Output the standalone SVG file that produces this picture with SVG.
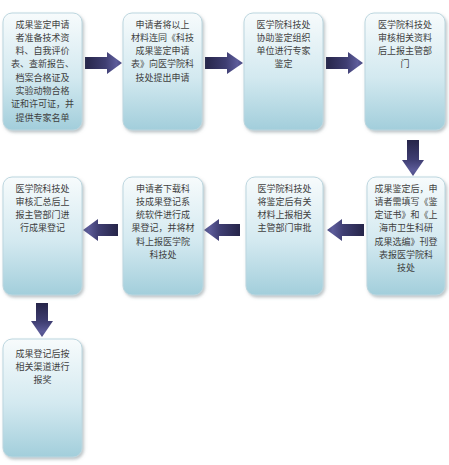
<svg xmlns="http://www.w3.org/2000/svg" width="449" height="465" viewBox="0 0 449 465">
<style>
.box{fill:url(#bg);stroke:#bcd6df;stroke-width:1;filter:url(#sh)}
.t{font-family:"Noto Sans CJK SC","Noto Sans",sans-serif;font-size:9px;fill:#404040;text-anchor:middle}
.ar{fill:url(#gr)}
.al{fill:url(#gl)}
.ad{fill:url(#gd)}
</style>
<defs>
<linearGradient id="bg" x1="0" y1="0" x2="0" y2="1">
<stop offset="0" stop-color="#f7fbfc"/>
<stop offset="0.55" stop-color="#d3e9f0"/>
<stop offset="1" stop-color="#a2cedb"/>
</linearGradient>
<linearGradient id="gr" x1="0" y1="0" x2="1" y2="0">
<stop offset="0" stop-color="#262549"/>
<stop offset="0.55" stop-color="#3f3e72"/>
<stop offset="0.85" stop-color="#5d5c9a"/>
<stop offset="1" stop-color="#4a4982"/>
</linearGradient>
<linearGradient id="gl" x1="1" y1="0" x2="0" y2="0">
<stop offset="0" stop-color="#262549"/>
<stop offset="0.55" stop-color="#3f3e72"/>
<stop offset="0.85" stop-color="#5d5c9a"/>
<stop offset="1" stop-color="#4a4982"/>
</linearGradient>
<linearGradient id="gd" x1="0" y1="0" x2="0" y2="1">
<stop offset="0" stop-color="#262549"/>
<stop offset="0.55" stop-color="#3f3e72"/>
<stop offset="0.85" stop-color="#5d5c9a"/>
<stop offset="1" stop-color="#4a4982"/>
</linearGradient>
<filter id="sh" x="-10%" y="-10%" width="125%" height="125%">
<feDropShadow dx="1.5" dy="2" stdDeviation="1.5" flood-color="#7a8a90" flood-opacity="0.5"/>
</filter>
</defs>
<g id="connectors">
<path class="ar" d="M85 57H107V52L122 63L107 74V69H85Z"/>
<path class="ar" d="M205 57H227V52L243 63L227 74V69H205Z"/>
<path class="ar" d="M326 57H348V52L363 63L348 74V69H326Z"/>
<path class="ad" d="M407 140H419V160H424L413 176L402 160H407Z"/>
<path class="al" d="M118 224H98V219L83 230L98 241V236H118Z"/>
<path class="al" d="M240 224H219V219L204 230L219 241V236H240Z"/>
<path class="al" d="M364 224H342V219L327 230L342 241V236H364Z"/>
<path class="ad" d="M36 303H48V321H53L42 337L31 321H36Z"/>
</g>
<g id="n1">
<rect class="box" x="3" y="13" width="79" height="117" rx="9"/>
<text class="t" x="42.5" y="27.5">成果鉴定申请<tspan x="42.5" dy="13.3">者准备技术资</tspan><tspan x="42.5" dy="13.3">料、自我评价</tspan><tspan x="42.5" dy="13.3">表、查新报告、</tspan><tspan x="42.5" dy="13.3">档案合格证及</tspan><tspan x="42.5" dy="13.3">实验动物合格</tspan><tspan x="42.5" dy="13.3">证和许可证，并</tspan><tspan x="42.5" dy="13.3">提供专家名单</tspan></text>
</g>
<g id="n2">
<rect class="box" x="123" y="13" width="79" height="117" rx="9"/>
<text class="t" x="162.5" y="27.5">申请者将以上<tspan x="162.5" dy="13.3">材料连同《科技</tspan><tspan x="162.5" dy="13.3">成果鉴定申请</tspan><tspan x="162.5" dy="13.3">表》向医学院科</tspan><tspan x="162.5" dy="13.3">技处提出申请</tspan></text>
</g>
<g id="n3">
<rect class="box" x="244" y="13" width="79" height="117" rx="9"/>
<text class="t" x="283.5" y="27.5">医学院科技处<tspan x="283.5" dy="13.3">协助鉴定组织</tspan><tspan x="283.5" dy="13.3">单位进行专家</tspan><tspan x="283.5" dy="13.3">鉴定</tspan></text>
</g>
<g id="n4">
<rect class="box" x="365" y="13" width="80" height="117" rx="9"/>
<text class="t" x="405" y="27.5">医学院科技处<tspan x="405" dy="13.3">审核相关资料</tspan><tspan x="405" dy="13.3">后上报主管部</tspan><tspan x="405" dy="13.3">门</tspan></text>
</g>
<g id="n5">
<rect class="box" x="367" y="177" width="78" height="118" rx="9"/>
<text class="t" x="406" y="191.5">成果鉴定后，申<tspan x="406" dy="13.3">请者需填写《鉴</tspan><tspan x="406" dy="13.3">定证书》和《上</tspan><tspan x="406" dy="13.3">海市卫生科研</tspan><tspan x="406" dy="13.3">成果选编》刊登</tspan><tspan x="406" dy="13.3">表报医学院科</tspan><tspan x="406" dy="13.3">技处</tspan></text>
</g>
<g id="n6">
<rect class="box" x="246" y="177" width="77" height="118" rx="9"/>
<text class="t" x="284.5" y="191.5">医学院科技处<tspan x="284.5" dy="13.3">将鉴定后有关</tspan><tspan x="284.5" dy="13.3">材料上报相关</tspan><tspan x="284.5" dy="13.3">主管部门审批</tspan></text>
</g>
<g id="n7">
<rect class="box" x="123" y="177" width="80" height="118" rx="9"/>
<text class="t" x="163" y="191.5">申请者下载科<tspan x="163" dy="13.3">技成果登记系</tspan><tspan x="163" dy="13.3">统软件进行成</tspan><tspan x="163" dy="13.3">果登记，并将材</tspan><tspan x="163" dy="13.3">料上报医学院</tspan><tspan x="163" dy="13.3">科技处</tspan></text>
</g>
<g id="n8">
<rect class="box" x="3" y="177" width="79" height="118" rx="9"/>
<text class="t" x="42.5" y="191.5">医学院科技处<tspan x="42.5" dy="13.3">审核汇总后上</tspan><tspan x="42.5" dy="13.3">报主管部门进</tspan><tspan x="42.5" dy="13.3">行成果登记</tspan></text>
</g>
<g id="n9">
<rect class="box" x="3" y="339" width="79" height="118" rx="9"/>
<text class="t" x="42.5" y="356.5">成果登记后按<tspan x="42.5" dy="13.3">相关渠道进行</tspan><tspan x="42.5" dy="13.3">报奖</tspan></text>
</g>
</svg>
